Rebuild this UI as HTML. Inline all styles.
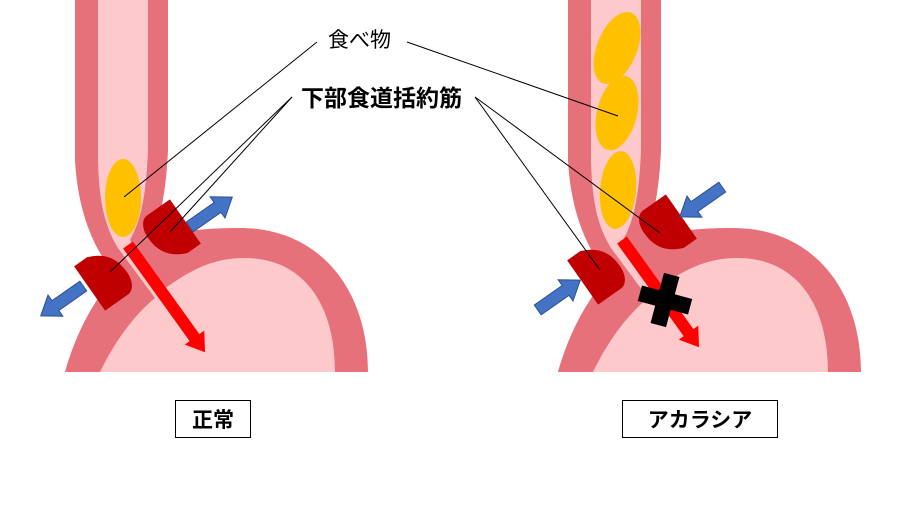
<!DOCTYPE html>
<html><head><meta charset="utf-8"><style>
html,body{margin:0;padding:0;background:#fff;width:910px;height:519px;overflow:hidden}
svg text{font-family:"Liberation Sans","Noto Sans CJK JP",sans-serif}
</style></head><body>
<svg width="910" height="519" viewBox="0 0 910 519" xmlns="http://www.w3.org/2000/svg">
<defs>
<g id="org">
<path d="M75,0 L168,0 L168,150 C166,195 160,215 155,235 C185,232 200,228 240,228 C320,228 368,290 368,372 L65,372 C80,320 100,295 115,275 C95,250 78,215 75,160 Z" fill="#E7717A"/>
<path d="M98,0 L148,0 L148,150 C146,200 140,222 130,240 L160,292 C190,270 212,258 245,258 C300,258 335,300 335,372 L100,372 C118,335 138,312 155,298 L118,248 C104,225 99,200 98,160 Z" fill="#FDC9CB"/>
</g>
<path id="sph" d="M-20,-27 L-4,-27 C14,-20 20,-8 20,8 C20,20 14,27 8,27 L-20,27 Z" fill="#C00000"/>
<path id="blue" d="M-26,-6 L8,-6 L8,-13 L26,0 L8,13 L8,6 L-26,6 Z" fill="#4472C4" stroke="#2F528F" stroke-width="1"/>
<path id="red" d="M0,-6 L114,-6 L114,-12 L132,0 L114,12 L114,6 L0,6 Z" fill="#FF0000"/>
</defs>
<use href="#org"/>
<use href="#org" x="493"/>
<!-- left -->
<ellipse cx="123" cy="198" rx="18" ry="39" fill="#FFC000"/>
<use href="#red" transform="translate(128,245) rotate(54.3)"/>
<use href="#sph" transform="translate(106,277) rotate(-35)"/>
<use href="#sph" transform="translate(169,233) rotate(145)"/>
<use href="#blue" transform="translate(211,212) rotate(-35)"/>
<use href="#blue" transform="translate(62,301) rotate(145)"/>
<!-- right -->
<ellipse cx="617" cy="48" rx="20" ry="38" fill="#FFC000" transform="rotate(22 617 48)"/>
<ellipse cx="617" cy="113" rx="20" ry="38" fill="#FFC000" transform="rotate(14 617 113)"/>
<ellipse cx="618" cy="190" rx="18" ry="39" fill="#FFC000" transform="rotate(5 618 190)"/>
<use href="#red" transform="translate(622,240) rotate(54.3)"/>
<use href="#sph" transform="translate(599,271) rotate(-35)"/>
<use href="#sph" transform="translate(665,228) rotate(145)"/>
<use href="#blue" transform="translate(701,202) rotate(145)"/>
<use href="#blue" transform="translate(559,295) rotate(-35)"/>
<g transform="translate(665,300) rotate(15)" fill="#000">
<rect x="-26" y="-8" width="52" height="16"/>
<rect x="-8" y="-26" width="16" height="52"/>
</g>
<!-- leaders -->
<g stroke="#000" stroke-width="1">
<line x1="317" y1="42" x2="124" y2="197"/>
<line x1="407" y1="42" x2="618" y2="116"/>
<line x1="292" y1="97" x2="110" y2="272"/>
<line x1="292" y1="97" x2="170" y2="232"/>
<line x1="475" y1="97" x2="600" y2="270"/>
<line x1="475" y1="97" x2="660" y2="233"/>
</g>
<text x="328" y="47" font-size="21" fill="#000">食べ物</text>
<text x="301" y="106" font-size="23" font-weight="bold" fill="#000">下部食道括約筋</text>
<rect x="175.5" y="400.5" width="75" height="37" fill="#fff" stroke="#000"/>
<text x="213" y="427" font-size="21" font-weight="bold" text-anchor="middle">正常</text>
<rect x="622.5" y="400.5" width="155" height="37" fill="#fff" stroke="#000"/>
<text x="700" y="427" font-size="21" font-weight="bold" text-anchor="middle">アカラシア</text>
</svg>
</body></html>
